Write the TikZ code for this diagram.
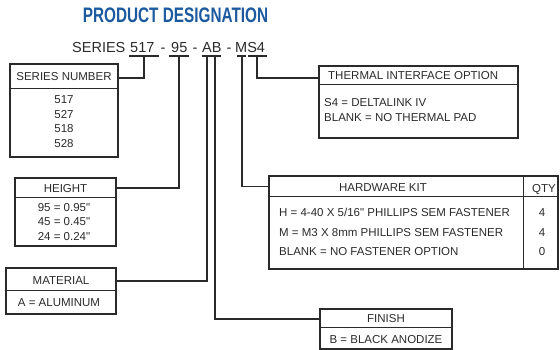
\documentclass[tikz,border=0pt]{standalone}
\usepackage{fontspec}
\setmainfont{Liberation Sans}
\newfontfamily\titlefont{Liberation Sans}[FakeStretch=0.73]
\newfontfamily\plainsans{Liberation Sans}
\newcommand\qdbl{{\plainsans\symbol{34}}}
\definecolor{tblue}{HTML}{1B5A9E}
\definecolor{ink}{HTML}{2A2A2A}
\tikzset{
  box/.style 2 args={draw=ink,line width=1.1pt,minimum width=#1,minimum height=#2,inner sep=0pt},
  rule/.style={draw=ink,line width=1.1pt},
  wire/.style={draw=ink,line width=1.1pt},
  txt/.style={font=\fontsize{11.5}{13}\selectfont,text=ink,inner sep=0pt,text height=8.2pt,text depth=0pt},
  code/.style={font=\fontsize{14.5}{16}\selectfont,text=ink,inner sep=0pt,anchor=base west}
}
\begin{document}
\begin{tikzpicture}[x=1pt,y=-1pt]
\useasboundingbox (0,0) rectangle (560,350);
% title
\node[font=\titlefont\bfseries\fontsize{21}{24}\selectfont,text=tblue,inner sep=0pt] (title) at (175.5,15.5) {PRODUCT DESIGNATION};
% code line
\node[code] (cser) at (72,53) {SERIES};
\node[code] (c517) at (130,53) {517};
\node[code] (d1) at (160.5,53) {-};
\node[code] (c95) at (171,53) {95};
\node[code] (d2) at (192.5,53) {-};
\node[code] (cab) at (202,53) {AB};
\node[code] (d3) at (226.5,53) {-};
\node[code] (cms) at (235,53) {MS4};
% underlines
\draw[wire] (129,56) -- (159,56);
\draw[wire] (169,56) -- (189,56);
\draw[wire] (202,56) -- (221,56);
\draw[wire] (237,56) -- (246,56);
\draw[wire] (248,56) -- (267,56);
% boxes
\node[box={108pt}{93pt}] (ser) at (64,110.5) {};
\draw[rule] (ser.north west) ++(0,25) -- ++(108,0);
\node[txt] (serh) at (64,76.5) {SERIES NUMBER};
\node[txt] (s1) at (64,99.5) {517};
\node[txt] (s2) at (64,114) {527};
\node[txt] (s3) at (64,128.5) {518};
\node[txt] (s4) at (64,143) {528};

\node[box={101pt}{68pt}] (hgt) at (65.5,212) {};
\draw[rule] (hgt.north west) ++(0,20) -- ++(101,0);
\node[txt] (hgth) at (65.5,188) {HEIGHT};
\node[txt] (h1) at (64,207) {95 = 0.95\qdbl};
\node[txt] (h2) at (64,221.5) {45 = 0.45\qdbl};
\node[txt] (h3) at (64,236) {24 = 0.24\qdbl};

\node[box={110pt}{46pt}] (mat) at (61,291) {};
\draw[rule] (mat.north west) ++(0,23) -- ++(110,0);
\node[txt] (math) at (61,280) {MATERIAL};
\node[txt] (m1) at (59,302) {A = ALUMINUM};

\node[box={199pt}{72pt}] (thm) at (418.5,102) {};
\draw[rule] (thm.north west) ++(0,19) -- ++(199,0);
\node[txt,anchor=west] (thmh) at (328,75.5) {THERMAL INTERFACE OPTION};
\node[txt,anchor=west] (t1) at (324,102) {S4 = DELTALINK IV};
\node[txt,anchor=west] (t2) at (324,117) {BLANK = NO THERMAL PAD};

\node[box={289pt}{93pt}] (hw) at (413.5,222.5) {};
\draw[rule] (hw.north west) ++(0,21) -- ++(289,0);
\draw[rule] (hw.north west) ++(255,0) -- ++(0,93);
\node[txt] (hwh) at (383,187) {HARDWARE KIT};
\node[txt] (qh) at (544,188.5) {QTY};
\node[txt,anchor=west] (w1) at (279,212) {H = 4-40 X 5/16\qdbl\ PHILLIPS SEM FASTENER};
\node[txt,anchor=west] (w2) at (279,232) {M = M3 X 8mm PHILLIPS SEM FASTENER};
\node[txt,anchor=west] (w3) at (279,251) {BLANK = NO FASTENER OPTION};
\node[txt] (q1) at (542,212) {4};
\node[txt] (q2) at (542,232) {4};
\node[txt] (q3) at (542,251) {0};

\node[box={132pt}{40pt}] (fin) at (386,329) {};
\draw[rule] (fin.north west) ++(0,19) -- ++(132,0);
\node[txt] (finh) at (386,318.5) {FINISH};
\node[txt] (f1) at (386,339) {B = BLACK ANODIZE};

% connectors
\coordinate (u517) at (144,56); \coordinate (k517) at (144,78);
\draw[wire] (u517) -- (k517) -- (k517 -| ser.east);
\coordinate (u95) at (179,56); \coordinate (k95) at (179,188);
\draw[wire] (u95) -- (k95) -- (k95 -| hgt.east);
\coordinate (uA) at (207,56); \coordinate (kA) at (207,281);
\draw[wire] (uA) -- (kA) -- (kA -| mat.east);
\coordinate (uB) at (215,56); \coordinate (kB) at (215,319);
\draw[wire] (uB) -- (kB) -- (kB -| fin.west);
\coordinate (uM) at (242,56); \coordinate (kM) at (242,186.5);
\draw[wire] (uM) -- (kM) -- (kM -| hw.west);
\coordinate (uS) at (257,56); \coordinate (kS) at (257,78);
\draw[wire] (uS) -- (kS) -- (kS -| thm.west);
\end{tikzpicture}
\end{document}
